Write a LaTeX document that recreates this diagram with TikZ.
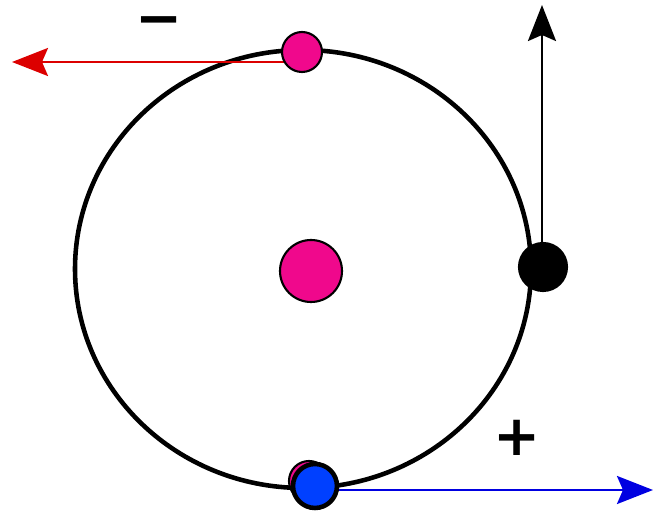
\documentclass[tikz,border=0pt]{standalone}
\usepackage{fontspec}
\usetikzlibrary{arrows.meta,positioning}
\definecolor{pinkdot}{RGB}{240,8,140}
\definecolor{bluedot}{RGB}{0,64,255}
\definecolor{bluearr}{RGB}{0,0,225}
\definecolor{redarr}{RGB}{220,0,0}
\newfontfamily\signfont{DejaVu Sans}
\tikzset{
  dot/.style={circle,draw=black,inner sep=0pt,line width=1.2pt},
  vec/.style={-{Stealth[length=0.72cm,width=0.56cm,inset=0.12cm]},line width=1.5pt},
  sign/.style={font=\signfont\bfseries\fontsize{32}{32}\selectfont,inner sep=0pt},
}
\begin{document}
\begin{tikzpicture}[x=0.02cm,y=-0.02cm]
  \useasboundingbox (0,0) rectangle (654,513);
  % orbit
  \draw[line width=2.6pt] (303,269) ellipse [x radius=228,y radius=219];
  \node[dot,fill=pinkdot,minimum size=0.8cm] (ghost) at (309,481) {};
  % vectors
  \coordinate (rtip) at (12,62);
  \coordinate (ktip) at (542,5);
  \coordinate (btip) at (653,490);
  \node[dot,fill=pinkdot,minimum size=1.24cm] (nuc) at (311,271) {};
  \draw[vec,redarr] (302,62) -- (rtip);
  \draw[vec,black] (542,267) -- (ktip);
  \draw[vec,bluearr] (315,490) -- (btip);
  \node[dot,fill=pinkdot,minimum size=0.8cm] (top) at (302,52) {};
  \node[dot,fill=black,minimum size=0.96cm] (right) at (543,267) {};
  \node[dot,fill=bluedot,line width=2.6pt,minimum size=0.88cm] (bot) at (315,486) {};
  % signs
  \node[sign,anchor=base,text height=0.45cm,text depth=0pt] (minus) at (159,38) {−};
  \node[sign] (plus) at (517,438) {+};
\end{tikzpicture}
\end{document}
